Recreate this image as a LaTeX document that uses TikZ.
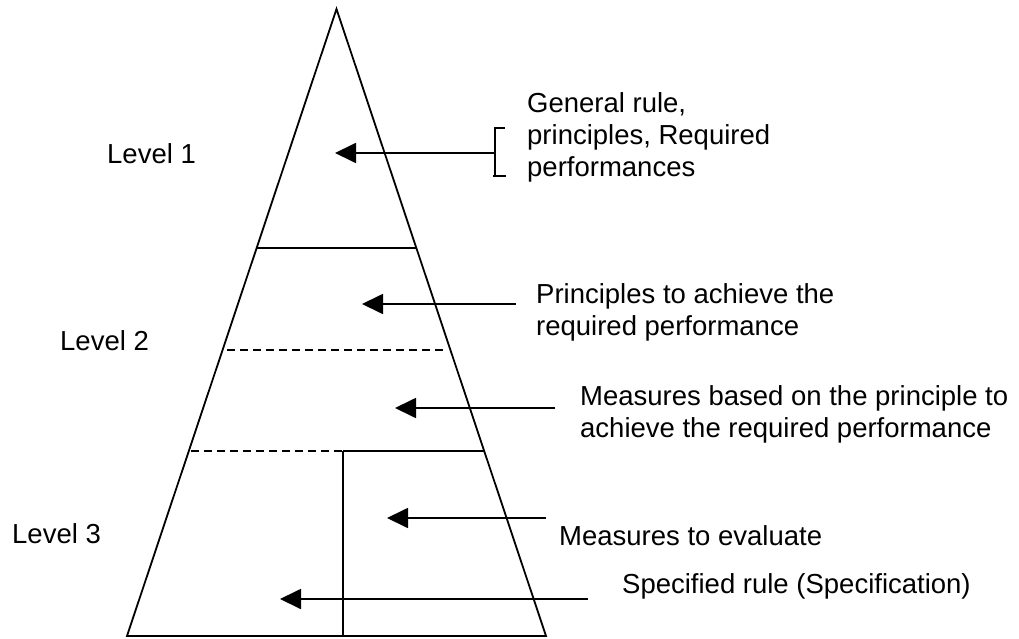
\documentclass[tikz,border=0pt]{standalone}
\usepackage{fontspec}
\setmainfont{Liberation Sans}
\usetikzlibrary{arrows.meta}
\begin{document}
\begin{tikzpicture}[x=1pt,y=-1pt,
  lbl/.style={anchor=north west,inner sep=0pt,align=left,font=\fontsize{27.5}{32}\selectfont},
  edge/.style={line width=1.8pt},
  dsh/.style={line width=1.8pt,dash pattern=on 8pt off 5pt},
  arr/.style={line width=1.8pt,-{Triangle[length=21pt,width=20pt]}}]
\useasboundingbox (0,0) rectangle (1019,639);
% pyramid
\coordinate (apex) at (336.5,9);
\coordinate (bl) at (127,636);
\coordinate (br) at (546,636);
\draw[edge,line join=miter] (bl) -- (apex) -- (br) -- cycle;
% level separators
\draw[edge] (256.6,248) -- (417.4,248);
\draw[dsh] (227,350) -- (447,350);
\draw[dsh] (191,451) -- (343,451);
\draw[edge] (343,451) -- (483.5,451);
\draw[edge] (343,451) -- (343,636);
% level labels
\node[lbl] (l1) at (107,143) {Level 1};
\node[lbl] (l2) at (60,330) {Level 2};
\node[lbl] (l3) at (12,523) {Level 3};
% descriptions
\node[lbl] (t1) at (527,92) {General rule,\\principles, Required\\performances};
\node[lbl] (t2) at (536,283) {Principles to achieve the\\required performance};
\node[lbl] (t3) at (580,385) {Measures based on the principle to\\achieve the required performance};
\node[lbl] (t4) at (559,525) {Measures to evaluate};
\node[lbl] (t5) at (622,573) {Specified rule (Specification)};
% bracket
\coordinate (bt) at (495,128);
\coordinate (bb) at (495,176);
\coordinate (bm) at (495,153);
\draw[edge] (505,128) -- (bt) -- (bb);
\draw[edge] (493,176) -- (506,176);
% arrows
\coordinate (a1) at (335,153);
\coordinate (s2) at (516,304);  \coordinate (a2) at (362,304);
\coordinate (s3) at (555,408);  \coordinate (a3) at (395,408);
\coordinate (s4) at (546,518);  \coordinate (a4) at (387,518);
\coordinate (s5) at (588,599);  \coordinate (a5) at (280,599);
\draw[arr] (bm) -- (a1);
\draw[arr] (s2) -- (a2);
\draw[arr] (s3) -- (a3);
\draw[arr] (s4) -- (a4);
\draw[arr] (s5) -- (a5);
\end{tikzpicture}
\end{document}
